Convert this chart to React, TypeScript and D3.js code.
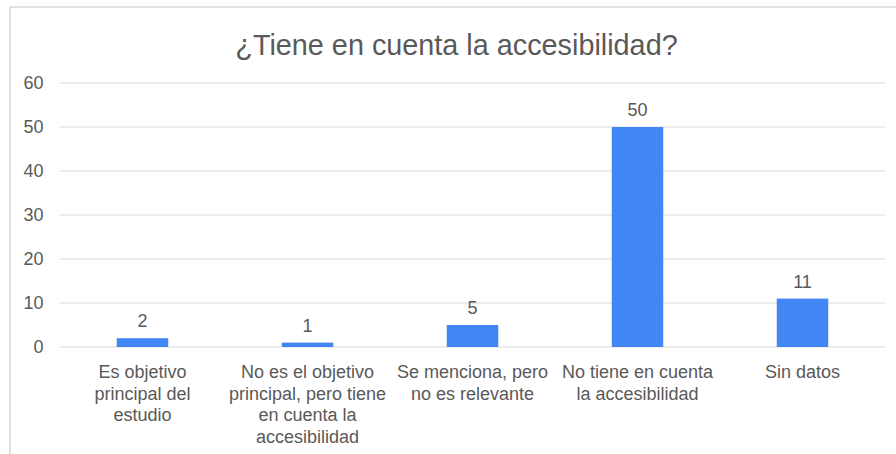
import React from "react";
import * as d3 from "d3";

const title = "¿Tiene en cuenta la accesibilidad?";
const categories = [
  "Es objetivo|principal del|estudio",
  "No es el objetivo|principal, pero tiene|en cuenta la|accesibilidad",
  "Se menciona, pero|no es relevante",
  "No tiene en cuenta|la accesibilidad",
  "Sin datos",
];
const values = [2, 1, 5, 50, 11];
const yTicks = [0, 10, 20, 30, 40, 50, 60];

const W = 896;
const H = 454;
const FONT = "Arial, 'Liberation Sans', Helvetica, sans-serif";
const TEXT = "#595959";
const GRID = "#d9d9d9";
const BAR = "#4285f4";

export default function App() {
  const x = d3.scaleBand<string>().domain(categories).range([60, 885]).paddingInner(0).paddingOuter(0);
  const y = d3.scaleLinear().domain([0, 60]).range([347, 83]);
  const barW = x.bandwidth() * 0.312;

  return (
    <svg
      width={W}
      height={H}
      style={{ position: "absolute", left: 0, top: 0, background: "#fff" }}
      fontFamily={FONT}
    >
      <rect x={0} y={0} width={W} height={H} fill="#fff" />
      <rect x={10} y={7} width={W + 20} height={H + 20} fill="none" stroke="#d9d9d9" strokeWidth={1.5} />
      <text x={456.5} y={55} textAnchor="middle" fontSize={28.8} fill={TEXT}>
        {title}
      </text>
      {yTicks.map((t) => (
        <g key={t}>
          <line x1={60} x2={885} y1={y(t)} y2={y(t)} stroke={GRID} strokeWidth={1.2} />
          <text x={43.5} y={y(t)} dy="0.35em" textAnchor="end" fontSize={18} fill={TEXT}>
            {t}
          </text>
        </g>
      ))}
      {categories.map((c, i) => {
        const cx = (x(c) as number) + x.bandwidth() / 2;
        const v = values[i];
        return (
          <g key={c}>
            <rect x={cx - barW / 2} y={y(v)} width={barW} height={y(0) - y(v)} fill={BAR} />
            <text x={cx} y={y(v) - 11} textAnchor="middle" fontSize={18} fill={TEXT}>
              {v}
            </text>
            {c.split("|").map((line, j) => (
              <text key={j} x={cx} y={378 + j * 21.6} textAnchor="middle" fontSize={18} fill={TEXT}>
                {line}
              </text>
            ))}
          </g>
        );
      })}
    </svg>
  );
}
